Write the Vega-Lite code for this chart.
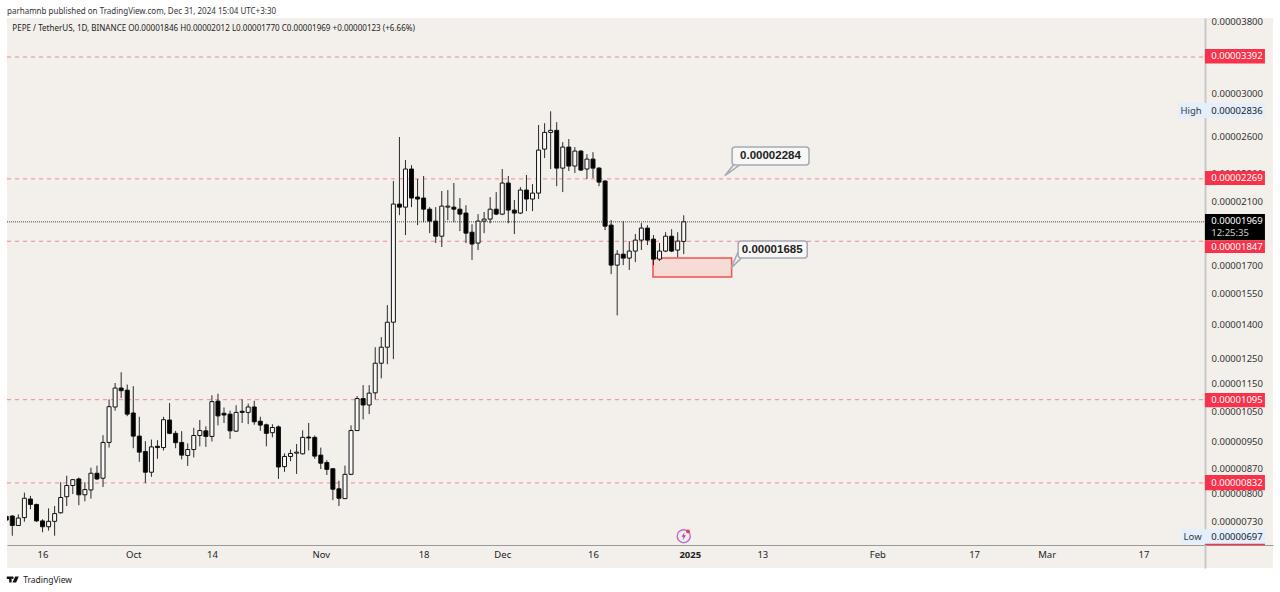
{
"$schema":"https://vega.github.io/schema/vega-lite/v6.json",
"width":1266,"height":550,
"autosize":{"type":"none"},
"padding":{"left":7,"top":18,"right":7,"bottom":24},
"background":"#ffffff",
"view":{"fill":"#f3f0ec","stroke":null},
"title":{"text":"parhamnb published on TradingView.com, Dec 31, 2024 15:04 UTC+3:30","anchor":"start","frame":"group","fontSize":8,"fontWeight":"normal","font":"Noto Sans","color":"#333333","offset":2,"dy":1},
"config":{"font":"Noto Sans"},
"datasets":{"candles":[
{"d":"2024-09-10","o":0.00000745,"h":0.00000748,"l":0.00000731,"c":0.00000736},
{"d":"2024-09-11","o":0.00000746,"h":0.00000748,"l":0.00000699,"c":0.00000723},
{"d":"2024-09-12","o":0.00000723,"h":0.0000075,"l":0.00000722,"c":0.00000741},
{"d":"2024-09-13","o":0.00000742,"h":0.00000806,"l":0.00000732,"c":0.00000791},
{"d":"2024-09-14","o":0.00000789,"h":0.00000797,"l":0.00000763,"c":0.00000775},
{"d":"2024-09-15","o":0.00000775,"h":0.00000777,"l":0.00000732,"c":0.00000734},
{"d":"2024-09-16","o":0.00000734,"h":0.00000738,"l":0.00000707,"c":0.0000072},
{"d":"2024-09-17","o":0.0000072,"h":0.00000765,"l":0.00000711,"c":0.00000733},
{"d":"2024-09-18","o":0.00000733,"h":0.00000771,"l":0.00000699,"c":0.00000752},
{"d":"2024-09-19","o":0.00000754,"h":0.00000834,"l":0.00000752,"c":0.00000793},
{"d":"2024-09-20","o":0.00000795,"h":0.00000852,"l":0.00000771,"c":0.00000825},
{"d":"2024-09-21","o":0.00000825,"h":0.00000843,"l":0.00000802,"c":0.00000841},
{"d":"2024-09-22","o":0.00000843,"h":0.00000847,"l":0.00000773,"c":0.000008},
{"d":"2024-09-23","o":0.000008,"h":0.00000834,"l":0.00000783,"c":0.00000814},
{"d":"2024-09-24","o":0.00000813,"h":0.00000875,"l":0.0000079,"c":0.00000859},
{"d":"2024-09-25","o":0.00000859,"h":0.00000881,"l":0.0000084,"c":0.00000843},
{"d":"2024-09-26","o":0.00000845,"h":0.00000974,"l":0.00000821,"c":0.00000951},
{"d":"2024-09-27","o":0.00000951,"h":0.00001096,"l":0.00000935,"c":0.0000107},
{"d":"2024-09-28","o":0.00001069,"h":0.00001157,"l":0.00001056,"c":0.00001138},
{"d":"2024-09-29","o":0.00001138,"h":0.00001199,"l":0.00001101,"c":0.00001128},
{"d":"2024-09-30","o":0.0000113,"h":0.00001151,"l":0.00001037,"c":0.00001044},
{"d":"2024-10-01","o":0.00001048,"h":0.00001145,"l":0.00000933,"c":0.00000971},
{"d":"2024-10-02","o":0.00000971,"h":0.00001035,"l":0.00000892,"c":0.00000921},
{"d":"2024-10-03","o":0.00000923,"h":0.00000955,"l":0.00000832,"c":0.00000862},
{"d":"2024-10-04","o":0.00000862,"h":0.0000096,"l":0.00000849,"c":0.00000937},
{"d":"2024-10-05","o":0.00000939,"h":0.00000958,"l":0.00000901,"c":0.00000935},
{"d":"2024-10-06","o":0.00000935,"h":0.00001035,"l":0.00000926,"c":0.00001025},
{"d":"2024-10-07","o":0.00001024,"h":0.00001083,"l":0.00000977,"c":0.0000098},
{"d":"2024-10-08","o":0.0000098,"h":0.00000988,"l":0.00000933,"c":0.0000095},
{"d":"2024-10-09","o":0.00000951,"h":0.00000987,"l":0.00000899,"c":0.00000912},
{"d":"2024-10-10","o":0.00000911,"h":0.00000948,"l":0.0000088,"c":0.00000929},
{"d":"2024-10-11","o":0.00000929,"h":0.00000998,"l":0.00000905,"c":0.00000973},
{"d":"2024-10-12","o":0.00000973,"h":0.00001024,"l":0.00000939,"c":0.00000989},
{"d":"2024-10-13","o":0.00000988,"h":0.00001003,"l":0.00000937,"c":0.0000097},
{"d":"2024-10-14","o":0.0000097,"h":0.00001111,"l":0.00000954,"c":0.00001088},
{"d":"2024-10-15","o":0.0000109,"h":0.00001117,"l":0.00001006,"c":0.00001038},
{"d":"2024-10-16","o":0.00001047,"h":0.00001067,"l":0.00001014,"c":0.00001041},
{"d":"2024-10-17","o":0.00001044,"h":0.00001056,"l":0.00000962,"c":0.00000988},
{"d":"2024-10-18","o":0.00000987,"h":0.00001075,"l":0.00000985,"c":0.0000105},
{"d":"2024-10-19","o":0.00001054,"h":0.00001096,"l":0.00001014,"c":0.0000105},
{"d":"2024-10-20","o":0.0000105,"h":0.00001081,"l":0.0000101,"c":0.00001069},
{"d":"2024-10-21","o":0.00001069,"h":0.00001091,"l":0.00001008,"c":0.00001018},
{"d":"2024-10-22","o":0.0000102,"h":0.00001035,"l":0.00000988,"c":0.00001007},
{"d":"2024-10-23","o":0.00001008,"h":0.00001012,"l":0.00000939,"c":0.0000098},
{"d":"2024-10-24","o":0.00000982,"h":0.0000101,"l":0.00000967,"c":0.00000999},
{"d":"2024-10-25","o":0.00001001,"h":0.00001006,"l":0.00000843,"c":0.00000877},
{"d":"2024-10-26","o":0.00000878,"h":0.00000917,"l":0.00000863,"c":0.00000908},
{"d":"2024-10-27","o":0.00000908,"h":0.00000929,"l":0.00000894,"c":0.00000917},
{"d":"2024-10-28","o":0.00000918,"h":0.00000946,"l":0.00000857,"c":0.00000921},
{"d":"2024-10-29","o":0.00000916,"h":0.0000099,"l":0.00000914,"c":0.00000967},
{"d":"2024-10-30","o":0.00000968,"h":0.00001014,"l":0.00000926,"c":0.00000965},
{"d":"2024-10-31","o":0.00000967,"h":0.00000973,"l":0.00000901,"c":0.00000909},
{"d":"2024-11-01","o":0.00000912,"h":0.00000935,"l":0.00000871,"c":0.00000888},
{"d":"2024-11-02","o":0.0000089,"h":0.00000897,"l":0.00000854,"c":0.0000087},
{"d":"2024-11-03","o":0.00000872,"h":0.00000873,"l":0.00000786,"c":0.00000815},
{"d":"2024-11-04","o":0.00000816,"h":0.00000838,"l":0.00000771,"c":0.00000791},
{"d":"2024-11-05","o":0.0000079,"h":0.00000881,"l":0.00000789,"c":0.00000856},
{"d":"2024-11-06","o":0.00000856,"h":0.00001006,"l":0.00000854,"c":0.00000989},
{"d":"2024-11-07","o":0.00000989,"h":0.00001108,"l":0.00000988,"c":0.00001099},
{"d":"2024-11-08","o":0.00001099,"h":0.00001149,"l":0.00001026,"c":0.00001076},
{"d":"2024-11-09","o":0.00001076,"h":0.00001149,"l":0.00001044,"c":0.00001119},
{"d":"2024-11-10","o":0.0000112,"h":0.00001302,"l":0.00001096,"c":0.00001235},
{"d":"2024-11-11","o":0.00001235,"h":0.00001346,"l":0.00001175,"c":0.00001302},
{"d":"2024-11-12","o":0.00001302,"h":0.00001496,"l":0.00001231,"c":0.00001414},
{"d":"2024-11-13","o":0.00001414,"h":0.00002253,"l":0.00001252,"c":0.00002088},
{"d":"2024-11-14","o":0.00002088,"h":0.00002605,"l":0.00002013,"c":0.00002067},
{"d":"2024-11-15","o":0.00002067,"h":0.00002414,"l":0.00001885,"c":0.00002344},
{"d":"2024-11-16","o":0.00002344,"h":0.00002374,"l":0.00002067,"c":0.0000213},
{"d":"2024-11-17","o":0.00002137,"h":0.00002268,"l":0.00001948,"c":0.00002123},
{"d":"2024-11-18","o":0.0000213,"h":0.00002291,"l":0.00001967,"c":0.00002053},
{"d":"2024-11-19","o":0.00002053,"h":0.00002067,"l":0.00001897,"c":0.00001974},
{"d":"2024-11-20","o":0.00001974,"h":0.00002067,"l":0.00001836,"c":0.00001878},
{"d":"2024-11-21","o":0.00001878,"h":0.0000218,"l":0.00001812,"c":0.00002074},
{"d":"2024-11-22","o":0.00002067,"h":0.00002187,"l":0.0000198,"c":0.00002074},
{"d":"2024-11-23","o":0.00002067,"h":0.00002238,"l":0.00001967,"c":0.00002053},
{"d":"2024-11-24","o":0.00002053,"h":0.0000213,"l":0.0000191,"c":0.0000202},
{"d":"2024-11-25","o":0.00002027,"h":0.0000208,"l":0.00001836,"c":0.00001897},
{"d":"2024-11-26","o":0.00001903,"h":0.00001954,"l":0.00001736,"c":0.0000183},
{"d":"2024-11-27","o":0.00001836,"h":0.0000202,"l":0.00001794,"c":0.00001974},
{"d":"2024-11-28","o":0.00001974,"h":0.00002034,"l":0.00001897,"c":0.00001987},
{"d":"2024-11-29","o":0.00001987,"h":0.00002137,"l":0.0000196,"c":0.00002053},
{"d":"2024-11-30","o":0.00002053,"h":0.00002172,"l":0.00002013,"c":0.0000202},
{"d":"2024-12-01","o":0.0000202,"h":0.00002344,"l":0.00002013,"c":0.00002238},
{"d":"2024-12-02","o":0.00002238,"h":0.00002291,"l":0.0000196,"c":0.00002047},
{"d":"2024-12-03","o":0.00002047,"h":0.00002116,"l":0.00001891,"c":0.00002027},
{"d":"2024-12-04","o":0.00002027,"h":0.00002208,"l":0.0000202,"c":0.00002187},
{"d":"2024-12-05","o":0.00002187,"h":0.00002298,"l":0.0000204,"c":0.00002123},
{"d":"2024-12-06","o":0.00002123,"h":0.0000223,"l":0.0000204,"c":0.00002165},
{"d":"2024-12-07","o":0.00002165,"h":0.0000271,"l":0.00002123,"c":0.00002495},
{"d":"2024-12-08","o":0.00002503,"h":0.00002727,"l":0.0000243,"c":0.00002645},
{"d":"2024-12-09","o":0.00002645,"h":0.00002836,"l":0.00002344,"c":0.00002663},
{"d":"2024-12-10","o":0.00002663,"h":0.00002736,"l":0.00002215,"c":0.00002351},
{"d":"2024-12-11","o":0.00002351,"h":0.00002562,"l":0.00002172,"c":0.0000252},
{"d":"2024-12-12","o":0.0000252,"h":0.00002588,"l":0.00002329,"c":0.00002367},
{"d":"2024-12-13","o":0.00002367,"h":0.0000252,"l":0.00002314,"c":0.00002487},
{"d":"2024-12-14","o":0.00002487,"h":0.00002495,"l":0.00002329,"c":0.00002336},
{"d":"2024-12-15","o":0.00002344,"h":0.00002462,"l":0.00002268,"c":0.00002422},
{"d":"2024-12-16","o":0.00002422,"h":0.00002478,"l":0.00002275,"c":0.00002351},
{"d":"2024-12-17","o":0.00002351,"h":0.00002359,"l":0.00002215,"c":0.00002245},
{"d":"2024-12-18","o":0.00002253,"h":0.0000226,"l":0.00001916,"c":0.00001941},
{"d":"2024-12-19","o":0.00001948,"h":0.0000198,"l":0.00001657,"c":0.00001707},
{"d":"2024-12-20","o":0.00001707,"h":0.00001794,"l":0.00001446,"c":0.0000177},
{"d":"2024-12-21","o":0.0000177,"h":0.00001974,"l":0.00001707,"c":0.00001747},
{"d":"2024-12-22","o":0.00001747,"h":0.00001848,"l":0.0000168,"c":0.00001788},
{"d":"2024-12-23","o":0.00001788,"h":0.00001892,"l":0.00001724,"c":0.00001854},
{"d":"2024-12-24","o":0.00001854,"h":0.00001961,"l":0.00001794,"c":0.00001929},
{"d":"2024-12-25","o":0.00001929,"h":0.00001948,"l":0.00001824,"c":0.00001854},
{"d":"2024-12-26","o":0.0000186,"h":0.00001885,"l":0.00001707,"c":0.00001741},
{"d":"2024-12-27","o":0.00001741,"h":0.00001836,"l":0.0000173,"c":0.00001788},
{"d":"2024-12-28","o":0.00001788,"h":0.00001903,"l":0.00001782,"c":0.00001878},
{"d":"2024-12-29","o":0.00001878,"h":0.00001922,"l":0.00001782,"c":0.00001788},
{"d":"2024-12-30","o":0.00001794,"h":0.00001903,"l":0.00001753,"c":0.00001848},
{"d":"2024-12-31","o":0.00001846,"h":0.00002012,"l":0.0000177,"c":0.00001969}
]},
"layer":[
{"data":{"values":[{"d":"2024-09-11T00:00:00Z","p":0.00003720,"t":"PEPE / TetherUS, 1D, BINANCE  O0.00001846  H0.00002012  L0.00001770  C0.00001969  +0.00000123 (+6.66%)"}]},
 "mark":{"type":"text","align":"left","baseline":"middle","fontSize":8.05,"color":"#222222"},
 "encoding":{
  "x":{"field":"d","type":"temporal","title":null,"scale":{"type":"utc","nice":false,"padding":0,"domain":["2024-09-10T03:00:00Z","2025-04-07T10:00:00Z"]},
   "axis":{"orient":"bottom","offset":-23,"values":["2024-09-16","2024-10-01","2024-10-14","2024-11-01","2024-11-18","2024-12-01","2024-12-16","2025-01-01","2025-01-13","2025-02-01","2025-02-17","2025-03-01","2025-03-17"],
    "labelExpr":"utcdate(datum.value)==1 ? (utcmonth(datum.value)==0 ? utcFormat(datum.value,'%Y') : utcFormat(datum.value,'%b')) : utcFormat(datum.value,'%-d')",
    "labelFontWeight":{"condition":{"test":"utcmonth(datum.value)==0 && utcdate(datum.value)==1","value":"bold"},"value":"normal"},
    "grid":false,"ticks":false,"domainColor":"#9a9a9a","domainWidth":1,"labelPadding":4,"labelFontSize":9.5,"labelColor":"#222222","labelFlush":false,"labelOverlap":false}},
  "y":{"field":"p","type":"quantitative","title":null,"scale":{"type":"log","domain":[0.000006284,0.00003858],"nice":false},
   "axis":{"orient":"right","offset":-68,"values":[0.000038,0.00003,0.000026,0.000023,0.000021,0.000017,0.0000155,0.000014,0.0000125,0.0000115,0.0000105,0.0000095,0.0000087,0.000008,0.0000073],"format":".8f",
    "grid":false,"ticks":false,"domainColor":"#c8c8c8","domainWidth":2,"labelPadding":6,"labelOffset":-1,"labelFontSize":9.5,"labelColor":"#333333","labelOverlap":false,"labelBaseline":"middle","labelFlush":false}},
  "text":{"field":"t"}}},
{"data":{"values":[
  {"a":"2024-09-10T03:00:00Z","b":"2025-03-27T04:00:00Z","p":0.00003392},
  {"a":"2024-09-10T03:00:00Z","b":"2025-03-27T04:00:00Z","p":0.00002269},
  {"a":"2024-09-10T03:00:00Z","b":"2025-03-27T04:00:00Z","p":0.00001847},
  {"a":"2024-09-10T03:00:00Z","b":"2025-03-27T04:00:00Z","p":0.00001095},
  {"a":"2024-09-10T03:00:00Z","b":"2025-03-27T04:00:00Z","p":0.00000832}]},
 "mark":{"type":"rule","color":"#f4868c","strokeWidth":1,"strokeDash":[4,4]},
 "encoding":{"x":{"field":"a","type":"temporal","scale":{"type":"utc"},"title":null},"x2":{"field":"b"},"y":{"field":"p","type":"quantitative","scale":{"type":"log"},"title":null}}},
{"data":{"values":[{"a":"2024-09-10T03:00:00Z","b":"2025-03-27T04:00:00Z","p":0.00001969}]},
 "mark":{"type":"rule","color":"#444444","strokeWidth":1,"strokeDash":[1,1]},
 "encoding":{"x":{"field":"a","type":"temporal","scale":{"type":"utc"},"title":null},"x2":{"field":"b"},"y":{"field":"p","type":"quantitative","scale":{"type":"log"},"title":null}}},
{"data":{"values":[{"a":"2024-12-25T22:00:00Z","b":"2025-01-07T22:00:00Z","lo":0.00001641,"hi":0.00001747}]},
 "mark":{"type":"rect","fill":"#f5dcd6","stroke":"#f4504f","strokeWidth":1.5},
 "encoding":{"x":{"field":"a","type":"temporal","scale":{"type":"utc"},"title":null},"x2":{"field":"b"},"y":{"field":"lo","type":"quantitative","scale":{"type":"log"},"title":null},"y2":{"field":"hi"}}},
{"data":{"name":"candles"},
 "mark":{"type":"rule","color":"#2a2a2a","strokeWidth":1,"clip":true},
 "encoding":{"x":{"field":"d","type":"temporal","scale":{"type":"utc"},"title":null},"y":{"field":"l","type":"quantitative","scale":{"type":"log"},"title":null},"y2":{"field":"h"}}},
{"data":{"name":"candles"},
 "mark":{"type":"bar","size":4,"stroke":"#111111","strokeWidth":1,"orient":"vertical","clip":true},
 "encoding":{"x":{"field":"d","type":"temporal","scale":{"type":"utc","padding":0},"title":null},"y":{"field":"o","type":"quantitative","scale":{"type":"log"},"title":null},"y2":{"field":"c"},
  "fill":{"condition":{"test":"datum.c>=datum.o","value":"#f9f8f6"},"value":"#000000"}}},
{"data":{"values":[
  {"i":1,"d":"2025-01-08T05:00:00Z","p":0.00002375},{"i":2,"d":"2025-01-06T19:00:00Z","p":0.00002293},{"i":3,"d":"2025-01-09T05:00:00Z","p":0.00002375}]},
 "mark":{"type":"line","color":"#a6a9b5","strokeWidth":1.5},
 "encoding":{"x":{"field":"d","type":"temporal","scale":{"type":"utc"},"title":null},"y":{"field":"p","type":"quantitative","scale":{"type":"log"},"title":null},"order":{"field":"i"}}},
{"data":{"values":[
  {"i":1,"d":"2025-01-09T00:00:00Z","p":0.00001783},{"i":2,"d":"2025-01-07T19:00:00Z","p":0.00001689},{"i":3,"d":"2025-01-09T12:00:00Z","p":0.00001747}]},
 "mark":{"type":"line","color":"#a6a9b5","strokeWidth":1.5},
 "encoding":{"x":{"field":"d","type":"temporal","scale":{"type":"utc"},"title":null},"y":{"field":"p","type":"quantitative","scale":{"type":"log"},"title":null},"order":{"field":"i"}}},
{"data":{"values":[
  {"a":"2025-01-08T00:00:00Z","b":"2025-01-20T17:00:00Z","lo":0.00002375,"hi":0.0000252},
  {"a":"2025-01-09T00:00:00Z","b":"2025-01-20T10:00:00Z","lo":0.00001747,"hi":0.00001848}]},
 "mark":{"type":"rect","fill":"#f8f7f5","stroke":"#a6a9b5","strokeWidth":1.5,"cornerRadius":3},
 "encoding":{"x":{"field":"a","type":"temporal","scale":{"type":"utc"},"title":null},"x2":{"field":"b"},"y":{"field":"lo","type":"quantitative","scale":{"type":"log"},"title":null},"y2":{"field":"hi"}}},
{"data":{"values":[
  {"d":"2025-01-14T08:00:00Z","p":0.00002446,"t":"0.00002284"},
  {"d":"2025-01-14T15:00:00Z","p":0.00001797,"t":"0.00001685"}]},
 "mark":{"type":"text","align":"center","baseline":"middle","fontSize":11.5,"fontWeight":"bold","font":"Liberation Sans","color":"#222222"},
 "encoding":{"x":{"field":"d","type":"temporal","scale":{"type":"utc"},"title":null},"y":{"field":"p","type":"quantitative","scale":{"type":"log"},"title":null},"text":{"field":"t"}}},
{"data":{"values":[
  {"kind":"alert","a":"2025-03-27T04:00:00Z","b":"2025-04-06T02:00:00Z","lo":0.0000332,"hi":0.00003483},
  {"kind":"alert","a":"2025-03-27T04:00:00Z","b":"2025-04-06T02:00:00Z","lo":0.00002223,"hi":0.00002328},
  {"kind":"info","a":"2025-03-22T17:00:00Z","b":"2025-04-06T02:00:00Z","lo":0.00002773,"hi":0.00002914},
  {"kind":"current","a":"2025-03-27T04:00:00Z","b":"2025-04-06T02:00:00Z","lo":0.00001853,"hi":0.0000202},
  {"kind":"alert","a":"2025-03-27T04:00:00Z","b":"2025-04-06T02:00:00Z","lo":0.00001776,"hi":0.00001853},
  {"kind":"alert","a":"2025-03-27T04:00:00Z","b":"2025-04-06T02:00:00Z","lo":0.00001068,"hi":0.00001119},
  {"kind":"alert","a":"2025-03-27T04:00:00Z","b":"2025-04-06T02:00:00Z","lo":0.00000812,"hi":0.00000854},
  {"kind":"info","a":"2025-03-23T05:00:00Z","b":"2025-04-06T02:00:00Z","lo":0.0000068,"hi":0.00000714}]},
 "mark":{"type":"rect"},
 "encoding":{"x":{"field":"a","type":"temporal","scale":{"type":"utc"},"title":null},"x2":{"field":"b"},"y":{"field":"lo","type":"quantitative","scale":{"type":"log"},"title":null},"y2":{"field":"hi"},
  "fill":{"field":"kind","type":"nominal","legend":null,"scale":{"domain":["alert","info","current"],"range":["#f7324a","#e3effd","#000000"]}}}},
{"data":{"values":[{"a":"2025-03-27T04:00:00Z","b":"2025-04-06T02:00:00Z","p":0.00000679}]},
 "mark":{"type":"rule","color":"#f23645","strokeWidth":1.5},
 "encoding":{"x":{"field":"a","type":"temporal","scale":{"type":"utc"},"title":null},"x2":{"field":"b"},"y":{"field":"p","type":"quantitative","scale":{"type":"log"},"title":null}}},
{"data":{"values":[
  {"kind":"alert","d":"2025-03-28T05:00:00Z","p":0.00003398,"t":"0.00003392"},
  {"kind":"info","d":"2025-03-28T05:00:00Z","p":0.00002836,"t":"0.00002836"},
  {"kind":"alert","d":"2025-03-28T05:00:00Z","p":0.00002276,"t":"0.00002269"},
  {"kind":"alert","d":"2025-03-28T05:00:00Z","p":0.00001975,"t":"0.00001969"},
  {"kind":"timer","d":"2025-03-28T05:00:00Z","p":0.00001899,"t":"12:25:35"},
  {"kind":"alert","d":"2025-03-28T05:00:00Z","p":0.00001815,"t":"0.00001847"},
  {"kind":"alert","d":"2025-03-28T05:00:00Z","p":0.00001095,"t":"0.00001095"},
  {"kind":"alert","d":"2025-03-28T05:00:00Z","p":0.00000832,"t":"0.00000832"},
  {"kind":"info","d":"2025-03-28T05:00:00Z","p":0.00000697,"t":"0.00000697"}]},
 "mark":{"type":"text","align":"left","baseline":"middle","fontSize":9.5},
 "encoding":{"x":{"field":"d","type":"temporal","scale":{"type":"utc"},"title":null},"y":{"field":"p","type":"quantitative","scale":{"type":"log"},"title":null},"text":{"field":"t"},
  "color":{"field":"kind","type":"nominal","legend":null,"scale":{"domain":["alert","info","timer"],"range":["#ffffff","#222222","#d0d0d0"]}}}},
{"data":{"values":[
  {"d":"2025-03-24T21:00:00Z","p":0.00002836,"t":"High"},
  {"d":"2025-03-25T03:00:00Z","p":0.00000697,"t":"Low"}]},
 "mark":{"type":"text","align":"center","baseline":"middle","fontSize":9.5,"color":"#333a46"},
 "encoding":{"x":{"field":"d","type":"temporal","scale":{"type":"utc"},"title":null},"y":{"field":"p","type":"quantitative","scale":{"type":"log"},"title":null},"text":{"field":"t"}}},
{"data":{"values":[{"d":"2024-12-31T00:00:00Z","p":0.00000698}]},
 "mark":{"type":"point","shape":"circle","size":170,"stroke":"#a63bc9","strokeWidth":1.5,"filled":false},
 "encoding":{"x":{"field":"d","type":"temporal","scale":{"type":"utc"},"title":null},"y":{"field":"p","type":"quantitative","scale":{"type":"log"},"title":null}}},
{"data":{"values":[{"d":"2024-12-31T00:00:00Z","p":0.00000698}]},
 "mark":{"type":"point","shape":"M0.25,-1L-0.55,0.15H-0.05L-0.25,1L0.55,-0.2H0.05Z","size":64,"fill":"#a63bc9","filled":true,"opacity":1,"strokeWidth":0},
 "encoding":{"x":{"field":"d","type":"temporal","scale":{"type":"utc"},"title":null},"y":{"field":"p","type":"quantitative","scale":{"type":"log"},"title":null}}},
{"data":{"values":[{"d":"2024-12-31T17:00:00Z","p":0.00000709}]},
 "mark":{"type":"point","shape":"circle","size":14,"fill":"#f23645","filled":true,"opacity":1},
 "encoding":{"x":{"field":"d","type":"temporal","scale":{"type":"utc"},"title":null},"y":{"field":"p","type":"quantitative","scale":{"type":"log"},"title":null}}},
{"data":{"values":[{"d":"2024-09-11T02:00:00Z","p":0.00000605}]},
 "mark":{"type":"point","shape":"M-1,-0.5H-0.2V0.5H-0.6V-0.1H-1ZM0.4,-0.5H1L0.55,0.5H-0.05ZM0.15,-0.3a0.2,0.2 0 1 1 -0.4,0a0.2,0.2 0 1 1 0.4,0Z","size":144,"fill":"#111111","filled":true,"opacity":1,"strokeWidth":0,"clip":false},
 "encoding":{"x":{"field":"d","type":"temporal","scale":{"type":"utc"},"title":null},"y":{"field":"p","type":"quantitative","scale":{"type":"log"},"title":null}}},
{"data":{"values":[{"d":"2024-09-12T19:00:00Z","p":0.00000605,"t":"TradingView"}]},
 "mark":{"type":"text","align":"left","baseline":"middle","fontSize":8.5,"color":"#222222","clip":false},
 "encoding":{"x":{"field":"d","type":"temporal","scale":{"type":"utc"},"title":null},"y":{"field":"p","type":"quantitative","scale":{"type":"log"},"title":null},"text":{"field":"t"}}}
]}
